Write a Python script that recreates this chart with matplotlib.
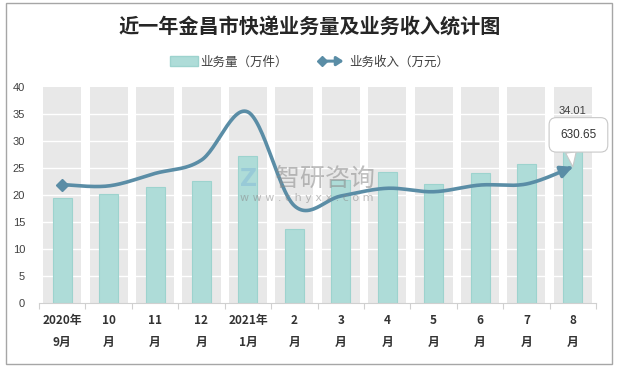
import numpy as np
import matplotlib.pyplot as plt
from matplotlib.lines import Line2D
from matplotlib.patches import Patch, FancyArrowPatch, Rectangle
from matplotlib.legend_handler import HandlerBase

plt.rcParams['font.family'] = ['Noto Sans CJK SC', 'DejaVu Sans']

# data
months = ['2020年\n9月', '10\n月', '11\n月', '12\n月', '2021年\n1月', '2\n月',
          '3\n月', '4\n月', '5\n月', '6\n月', '7\n月', '8\n月']
volume = [19.4, 20.2, 21.4, 22.5, 27.3, 13.6, 22.8, 24.2, 22.0, 24.0, 25.7, 34.01]   # 万件
revenue = [548, 542, 600, 662, 885, 450, 495, 531, 515, 546, 551, 630.65]           # 万元

bar_color = '#AEDCD8'
bar_edge = '#9DD3CE'
line_color = '#5A8DA6'
bg_band = '#E8E8E8'


def smooth(xs, ys, n=30):
    # excel-like smoothed line (bezier through the points)
    xs = np.asarray(xs, float)
    ys = np.asarray(ys, float)
    px = np.concatenate([[xs[0]], xs, [xs[-1]]])
    py = np.concatenate([[ys[0]], ys, [ys[-1]]])
    outx, outy = [], []
    t = np.linspace(0, 1, n)
    for i in range(1, len(px) - 2):
        p0 = np.array([px[i], py[i]])
        p3 = np.array([px[i + 1], py[i + 1]])
        p1 = p0 + (np.array([px[i + 1], py[i + 1]]) - np.array([px[i - 1], py[i - 1]])) / 6
        p2 = p3 - (np.array([px[i + 2], py[i + 2]]) - np.array([px[i], py[i]])) / 6
        b = ((1 - t) ** 3)[:, None] * p0 + (3 * (1 - t) ** 2 * t)[:, None] * p1 \
            + (3 * (1 - t) * t ** 2)[:, None] * p2 + (t ** 3)[:, None] * p3
        outx.extend(b[:, 0])
        outy.extend(b[:, 1])
    return np.array(outx), np.array(outy)


class ArrowLineHandler(HandlerBase):
    def create_artists(self, legend, orig_handle, xdescent, ydescent, width, height, fontsize, trans):
        y = height / 2 - ydescent
        x0 = -xdescent
        arr = FancyArrowPatch((x0 + 2, y), (x0 + width, y), arrowstyle='-|>,head_length=4,head_width=2.6',
                              color=line_color, lw=2.2, mutation_scale=1, transform=trans)
        d = Line2D([x0 + 2], [y], marker='D', ms=5, color=line_color, transform=trans)
        return [arr, d]


fig = plt.figure(figsize=(6.19, 3.71), dpi=100)
ax = fig.add_axes([0.063, 0.184, 0.9, 0.581])

x = np.arange(len(months))
ax.set_ylim(0, 40)
ax.set_xlim(-0.5, len(months) - 0.5)

# gray column bands + white grid
ax.bar(x, ax.get_ylim()[1], width=0.82, color=bg_band, zorder=1)
for yv in range(5, 40, 5):
    ax.axhline(yv, color='white', lw=1.0, zorder=1.5)
ax.bar(x, volume, width=0.41, color=bar_color, edgecolor=bar_edge, lw=0.8, zorder=2)
ax.text(x[-1], volume[-1] + 0.6, f'{volume[-1]:.2f}', ha='center', va='bottom', fontsize=8,
        color='#404040', family=['Liberation Sans', 'DejaVu Sans'], zorder=5)

ax.set_yticks(range(0, 41, 5))
ax.tick_params(axis='y', length=0, labelsize=8, labelcolor='#404040', pad=10)
for lab in ax.get_yticklabels():
    lab.set_family(['Liberation Sans', 'DejaVu Sans'])
ax.set_xticks(x)
ax.set_xticklabels(months, fontsize=8.5, fontweight='bold', color='#333333', linespacing=1.9)
ax.set_xticks(np.arange(-0.5, len(months), 1), minor=True)
ax.tick_params(axis='x', which='major', length=0, pad=8)
ax.tick_params(axis='x', which='minor', length=4, color='#D0D0D0', width=0.8)
for s in ['top', 'right', 'left']:
    ax.spines[s].set_visible(False)
ax.spines['bottom'].set_color('#D0D0D0')

# revenue on hidden secondary axis
ax2 = ax.twinx()
ax2.set_ylim(0, 1000)
ax2.axis('off')
sx, sy = smooth(x, revenue)
ax2.plot(sx[:-3], sy[:-3], color=line_color, lw=2.6, zorder=4, solid_capstyle='round')
ax2.plot([x[0]], [revenue[0]], marker='D', ms=6, color=line_color, zorder=4)
ax2.annotate('', xy=(sx[-1], sy[-1]), xytext=(sx[-6], sy[-6]),
             arrowprops=dict(arrowstyle='-|>,head_length=0.7,head_width=0.35', color=line_color,
                             lw=2.6, shrinkA=0, shrinkB=0), zorder=4)
ax2.annotate(f'{revenue[-1]:.2f}', xy=(x[-1], revenue[-1]), xytext=(4, 23), textcoords='offset points',
             ha='center', va='center', fontsize=8.5, color='#333333',
             family=['Liberation Sans', 'DejaVu Sans'],
             bbox=dict(boxstyle='round,pad=0.95,rounding_size=0.6', fc='white', ec='#C8C8C8', lw=0.8),
             arrowprops=dict(arrowstyle='wedge,tail_width=0.9,shrink_factor=0.5', fc='white', ec='#C8C8C8',
                             lw=0.8, relpos=(0.25, 0.0), shrinkA=0, shrinkB=0),
             zorder=6, annotation_clip=False)

# watermark
fig.text(0.525, 0.518, '智研咨询', ha='center', va='center', fontsize=18, color='#8A8A8A', alpha=0.55)
fig.text(0.495, 0.465, 'w w w . c h y x x . c o m', ha='center', va='center', fontsize=8,
         color='#8A8A8A', alpha=0.55, family=['DejaVu Sans'])
fig.text(0.402, 0.518, 'Z', ha='center', va='center', fontsize=17, fontweight='bold',
         color='#7FB6D6', alpha=0.45, family=['DejaVu Sans'])

fig.suptitle('近一年金昌市快递业务量及业务收入统计图', x=0.5, y=0.955, fontsize=14.5, fontweight='bold',
             color='#262626')

handles = [Patch(facecolor=bar_color, edgecolor=bar_edge), Line2D([], [], color=line_color)]
fig.legend(handles, ['业务量（万件）', '业务收入（万元）'], loc='center', bbox_to_anchor=(0.5, 0.833),
           ncol=2, frameon=False, fontsize=9, handlelength=2.2, handleheight=0.8, columnspacing=2.5,
           handletextpad=0.2, handler_map={Line2D: ArrowLineHandler()}, labelcolor='#404040')

fig.patches.append(Rectangle((0.0105, 0.02), 0.978, 0.971, transform=fig.transFigure,
                             fill=False, ec='#A6A6A6', lw=1.0))

fig.savefig('out.png', dpi=100)
